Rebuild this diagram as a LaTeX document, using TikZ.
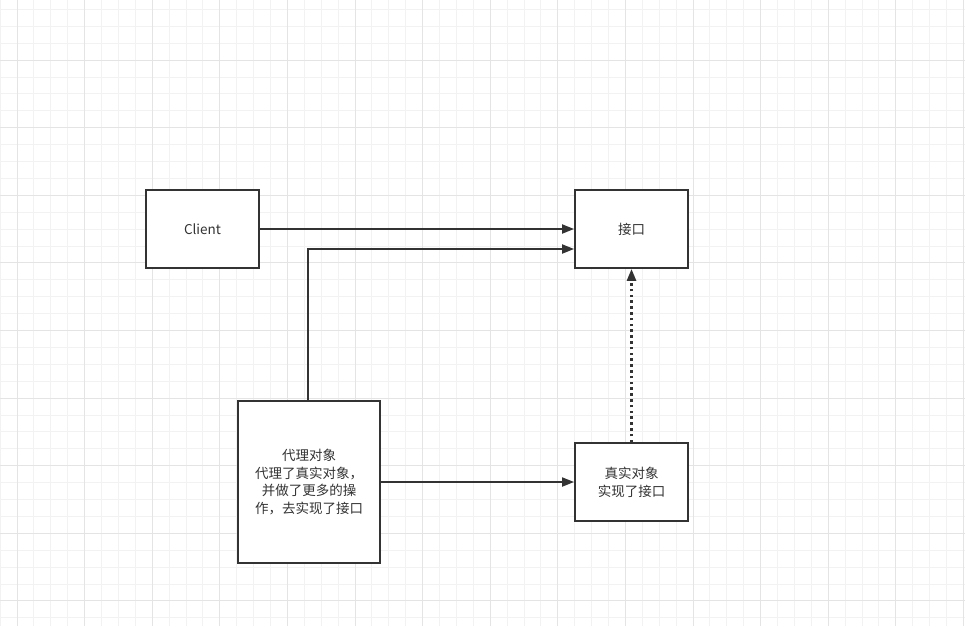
\documentclass[tikz,border=0pt]{standalone}
\usepackage{fontspec}
\setmainfont{Noto Sans CJK SC}
\usetikzlibrary{arrows.meta}
\definecolor{ink}{HTML}{333333}
\definecolor{gridminor}{HTML}{F2F2F2}
\definecolor{gridmajor}{HTML}{E4E4E4}
\tikzset{
  box/.style={draw=ink, line width=1.8pt, fill=white, inner sep=0pt, align=center, text=ink, font=\fontsize{13.5}{17.7}\selectfont},
  conn/.style={draw=ink, line width=1.8pt, -{Triangle[length=12pt,width=9pt]}},
  dotconn/.style={conn, line width=2.6pt, dash pattern=on 2.6pt off 3.2pt},
}
\begin{document}
\begin{tikzpicture}[x=1pt,y=-1pt]
\fill[white] (0,0) rectangle (965,626);
\useasboundingbox (0,0) rectangle (965,626);
\begin{scope}
\clip (0,0) rectangle (965,626);
\foreach \i in {-1,...,57} {
  \pgfmathsetmacro{\xx}{16.9+16.9*\i}
  \draw[gridminor, line width=0.8pt] (\xx,0) -- (\xx,626);
}
\foreach \i in {-4,...,34} {
  \pgfmathsetmacro{\yy}{60+16.9*\i}
  \draw[gridminor, line width=0.8pt] (0,\yy) -- (965,\yy);
}
\foreach \i in {0,...,14} {
  \pgfmathsetmacro{\xx}{16.9+67.6*\i}
  \draw[gridmajor, line width=0.8pt] (\xx,0) -- (\xx,626);
}
\foreach \i in {-1,...,9} {
  \pgfmathsetmacro{\yy}{60+67.6*\i}
  \draw[gridmajor, line width=0.8pt] (0,\yy) -- (965,\yy);
}
\end{scope}

\node[box, minimum width=113pt, minimum height=78pt] (client) at (202.5,229) {Client};
\node[box, minimum width=113pt, minimum height=78pt] (iface) at (631.5,229) {接口};
\node[box, minimum width=142pt, minimum height=162pt] (proxy) at (309,482) {代理对象\\代理了真实对象，\\并做了更多的操\\作，去实现了接口};
\node[box, minimum width=113pt, minimum height=78pt] (real) at (631.5,482) {真实对象\\实现了接口};

\draw[conn] (client.east) -- (iface.west);
\draw[conn] (proxy.north -| 308,0) |- ([yshift=-20pt]iface.west);
\draw[conn] (proxy.east) -- (real.west);
\draw[dotconn] (real.north) -- (iface.south);
\end{tikzpicture}
\end{document}
